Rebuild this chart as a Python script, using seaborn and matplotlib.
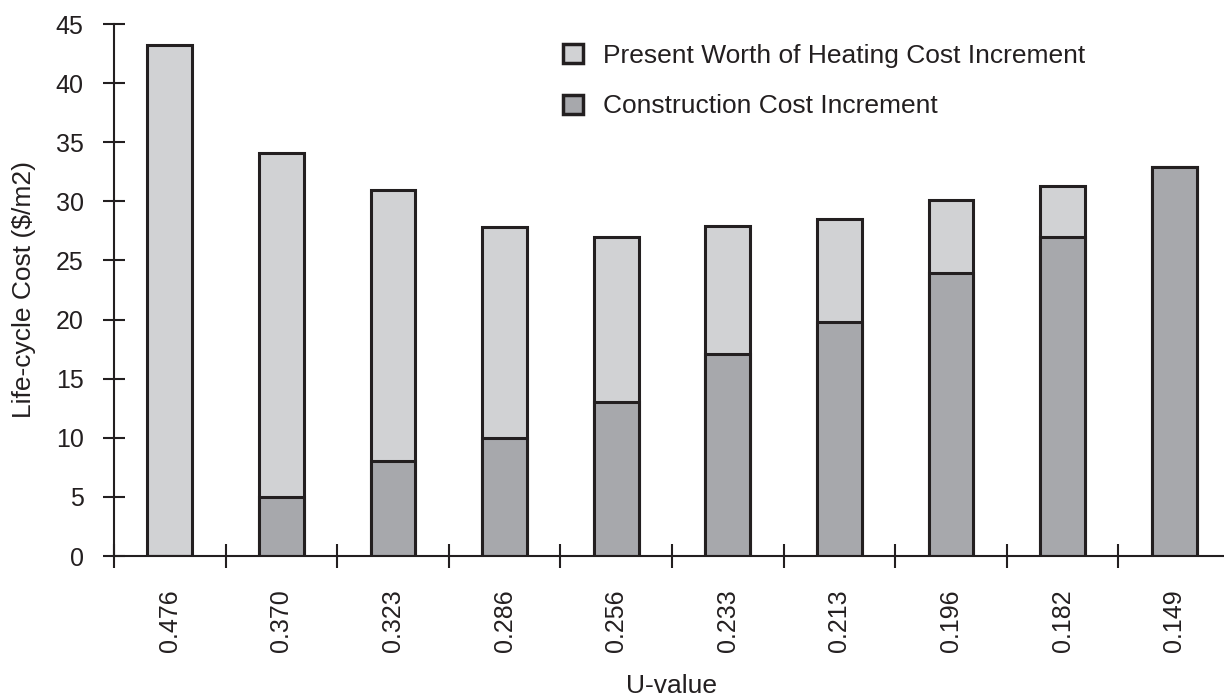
import matplotlib
matplotlib.use("Agg")
import matplotlib.pyplot as plt
from matplotlib.patches import Patch
import numpy as np
import pandas as pd
import seaborn as sns

# U-value categories and cost components ($/m2)
u_values = ["0.476", "0.370", "0.323", "0.286", "0.256",
            "0.233", "0.213", "0.196", "0.182", "0.149"]
construction_cost = [0.0, 5.0, 8.0, 10.0, 13.0, 17.1, 19.8, 23.9, 27.0, 32.9]
heating_cost = [43.2, 29.1, 23.0, 17.8, 14.0, 10.8, 8.7, 6.2, 4.3, 0.0]
y_ticks = [0, 5, 10, 15, 20, 25, 30, 35, 40, 45]

series_labels = ["Present Worth of Heating Cost Increment",
                 "Construction Cost Increment"]

LIGHT = "#d1d2d4"
DARK = "#a7a8ac"
INK = "#231f20"
FS = 19       # legend and axis titles
TICK_FS = 18  # tick labels

sns.set_theme(style="white")
plt.rcParams["font.family"] = ["Liberation Sans", "DejaVu Sans"]
plt.rcParams["text.color"] = INK
plt.rcParams["axes.labelcolor"] = INK
plt.rcParams["xtick.color"] = INK
plt.rcParams["ytick.color"] = INK

df = pd.DataFrame({
    "U-value": u_values,
    "construction": construction_cost,
    "heating": heating_cost,
})
df["total"] = df["construction"] + df["heating"]

W, H = 1224, 698
fig = plt.figure(figsize=(W / 100, H / 100), dpi=100)
ax = fig.add_axes([114 / W, 142 / H, 1116 / W, 532 / H])

bar_kw = dict(order=u_values, width=0.4, edgecolor=INK, linewidth=2.2,
              saturation=1, errorbar=None, ax=ax)
# full stack first (heating on top), then construction share over it
sns.barplot(data=df, x="U-value", y="total", color=LIGHT, **bar_kw)
sns.barplot(data=df, x="U-value", y="construction", color=DARK, **bar_kw)

n = len(u_values)
ax.set_xlim(-0.5, n - 0.5)
ax.set_ylim(0, 45)
ax.set_yticks(y_ticks)

# category labels at bar centres, tick marks on category boundaries
ax.set_xticks(range(n))
ax.set_xticklabels(u_values, rotation=90, fontsize=TICK_FS)
ax.set_xticks(np.arange(-0.5, n, 1.0), minor=True)
ax.tick_params(axis="x", which="major", bottom=True, length=0, pad=24)
ax.tick_params(axis="x", which="minor", bottom=True, direction="inout",
               length=17, width=1.5, color=INK)
ax.tick_params(axis="y", which="major", left=True, direction="inout",
               length=15.6, width=1.5, pad=14, labelsize=TICK_FS, color=INK)

for side in ("top", "right"):
    ax.spines[side].set_visible(False)
for side in ("left", "bottom"):
    ax.spines[side].set_color(INK)
    ax.spines[side].set_linewidth(1.5)

ax.set_xlabel("U-value", fontsize=FS, va="baseline")
ax.set_ylabel("Life-cycle Cost ($/m2)", fontsize=FS)
ax.yaxis.set_label_coords(-0.070, 0.5)
ax.xaxis.set_label_coords(0.5, -0.2575)

handles = [Patch(facecolor=LIGHT, edgecolor=INK, linewidth=2.5),
           Patch(facecolor=DARK, edgecolor=INK, linewidth=2.5)]
fig.legend(handles, series_labels, loc="upper left",
           bbox_to_anchor=(563 / W, 1 - 44 / H), frameon=False,
           fontsize=FS, handlelength=0.75, handleheight=0.75,
           handletextpad=0.75, labelspacing=1.0, borderpad=0,
           borderaxespad=0)

fig.savefig("out.png", dpi=100)
